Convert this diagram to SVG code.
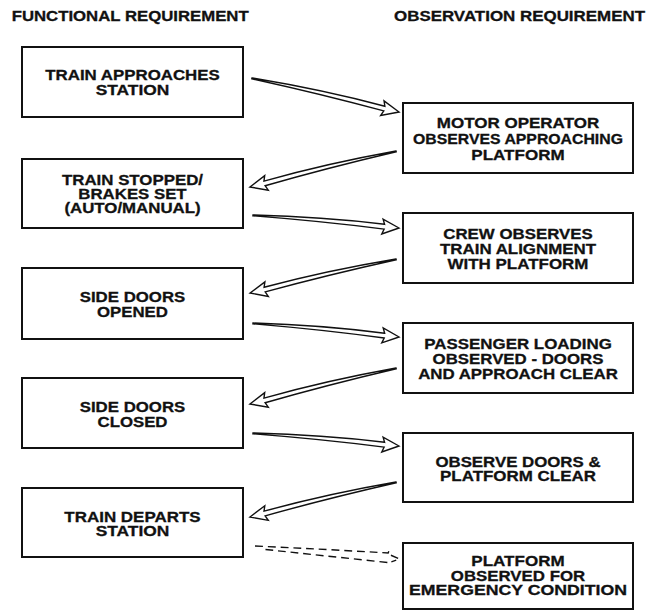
<svg xmlns="http://www.w3.org/2000/svg" width="649" height="611" viewBox="0 0 649 611">
<style>
  .bg{fill:#fff}
  .box{fill:#fff;stroke:#111;stroke-width:2}
  .t{font-family:"Liberation Sans",Arial,sans-serif;font-weight:bold;font-size:15px;fill:#111;stroke:#111;stroke-width:0.3;text-anchor:middle}
  .h{font-family:"Liberation Sans",Arial,sans-serif;font-weight:bold;font-size:14.5px;fill:#111;stroke:#111;stroke-width:0.3}
  .arr{fill:#fff;stroke:#111;stroke-width:1.4;stroke-linejoin:miter}
  .dash{fill:none;stroke:#111;stroke-width:1.4;stroke-dasharray:8 5}
</style>
<defs>
  <path id="ah" d="M0,0 Q70,-4.5 135,-2.4 L133,-7.5 L150,0 L133,7.5 L135,2.4 Q70,0 0,0.8 Z"/>
  <path id="dh" d="M0,0 Q70,-2.5 136,-4 L137,-7.5 M139,-2 L148,1 L140,4.5 M136,5.5 Q70,4 6,2.5"/>
</defs>
<rect class="bg" x="0" y="0" width="649" height="611"/>
<g id="headers">
  <text class="h" x="11.7" y="20.5" textLength="237" lengthAdjust="spacingAndGlyphs">FUNCTIONAL REQUIREMENT</text>
  <text class="h" x="394" y="20.5" textLength="251" lengthAdjust="spacingAndGlyphs">OBSERVATION REQUIREMENT</text>
</g>
<g id="connectors">
  <use href="#ah" class="arr" transform="translate(252,78) rotate(13.02) scale(1.006,1)"/>
  <use href="#ah" class="arr" transform="translate(396,151) rotate(166.15) scale(1.003,-1)"/>
  <use href="#ah" class="arr" transform="translate(253,215) rotate(5.09) scale(0.977,1)"/>
  <use href="#ah" class="arr" transform="translate(396,259) rotate(166.89) scale(0.999,-1)"/>
  <use href="#ah" class="arr" transform="translate(253,323) rotate(5.48) scale(0.978,1)"/>
  <use href="#ah" class="arr" transform="translate(396,368) rotate(166.15) scale(1.003,-1)"/>
  <use href="#ah" class="arr" transform="translate(253,433) rotate(5.09) scale(0.977,1)"/>
  <use href="#ah" class="arr" transform="translate(396,482) rotate(166.52) scale(1.001,-1)"/>
  <use href="#dh" class="dash" transform="translate(255,546) rotate(4.73) scale(0.98,1)"/>
</g>
<g id="f1"><rect class="box" x="22" y="47" width="221" height="70"/>
  <text class="t" x="132.5" y="80" textLength="174.5" lengthAdjust="spacingAndGlyphs">TRAIN APPROACHES</text>
  <text class="t" x="132.5" y="94.5" textLength="73.7" lengthAdjust="spacingAndGlyphs">STATION</text></g>
<g id="f2"><rect class="box" x="22" y="159" width="221" height="69"/>
  <text class="t" x="132.5" y="184.5" textLength="141" lengthAdjust="spacingAndGlyphs">TRAIN STOPPED/</text>
  <text class="t" x="132.5" y="198.5" textLength="108.3" lengthAdjust="spacingAndGlyphs">BRAKES SET</text>
  <text class="t" x="132.5" y="212.5" textLength="136.2" lengthAdjust="spacingAndGlyphs">(AUTO/MANUAL)</text></g>
<g id="f3"><rect class="box" x="22" y="268" width="221" height="71"/>
  <text class="t" x="132.5" y="302" textLength="105.5" lengthAdjust="spacingAndGlyphs">SIDE DOORS</text>
  <text class="t" x="132.5" y="316.5" textLength="70.9" lengthAdjust="spacingAndGlyphs">OPENED</text></g>
<g id="f4"><rect class="box" x="22" y="378" width="221" height="70"/>
  <text class="t" x="132.5" y="412" textLength="105.5" lengthAdjust="spacingAndGlyphs">SIDE DOORS</text>
  <text class="t" x="132.5" y="426.5" textLength="70" lengthAdjust="spacingAndGlyphs">CLOSED</text></g>
<g id="f5"><rect class="box" x="22" y="488" width="221" height="69"/>
  <text class="t" x="132.5" y="521.5" textLength="136.3" lengthAdjust="spacingAndGlyphs">TRAIN DEPARTS</text>
  <text class="t" x="132.5" y="536" textLength="73.7" lengthAdjust="spacingAndGlyphs">STATION</text></g>
<g id="o1"><rect class="box" x="403" y="103" width="230" height="70"/>
  <text class="t" x="518" y="128" textLength="162.4" lengthAdjust="spacingAndGlyphs">MOTOR OPERATOR</text>
  <text class="t" x="518" y="144" textLength="210" lengthAdjust="spacingAndGlyphs">OBSERVES APPROACHING</text>
  <text class="t" x="518" y="160" textLength="93.3" lengthAdjust="spacingAndGlyphs">PLATFORM</text></g>
<g id="o2"><rect class="box" x="403" y="213" width="230" height="70"/>
  <text class="t" x="518" y="238.5" textLength="149.4" lengthAdjust="spacingAndGlyphs">CREW OBSERVES</text>
  <text class="t" x="518" y="253.5" textLength="155.9" lengthAdjust="spacingAndGlyphs">TRAIN ALIGNMENT</text>
  <text class="t" x="518" y="268.5" textLength="140.9" lengthAdjust="spacingAndGlyphs">WITH PLATFORM</text></g>
<g id="o3"><rect class="box" x="403" y="323" width="230" height="70"/>
  <text class="t" x="518" y="348.5" textLength="187.6" lengthAdjust="spacingAndGlyphs">PASSENGER LOADING</text>
  <text class="t" x="518" y="363.5" textLength="170.8" lengthAdjust="spacingAndGlyphs">OBSERVED - DOORS</text>
  <text class="t" x="518" y="378.5" textLength="199.7" lengthAdjust="spacingAndGlyphs">AND APPROACH CLEAR</text></g>
<g id="o4"><rect class="box" x="403" y="433" width="230" height="69"/>
  <text class="t" x="518" y="466.5" textLength="165.2" lengthAdjust="spacingAndGlyphs">OBSERVE DOORS &amp;</text>
  <text class="t" x="518" y="481" textLength="155.9" lengthAdjust="spacingAndGlyphs">PLATFORM CLEAR</text></g>
<g id="o5"><rect class="box" x="403" y="543" width="230" height="66"/>
  <text class="t" x="518" y="566" textLength="93.3" lengthAdjust="spacingAndGlyphs">PLATFORM</text>
  <text class="t" x="518" y="580.5" textLength="134.4" lengthAdjust="spacingAndGlyphs">OBSERVED FOR</text>
  <text class="t" x="518" y="595" textLength="218" lengthAdjust="spacingAndGlyphs">EMERGENCY CONDITION</text></g>
</svg>
